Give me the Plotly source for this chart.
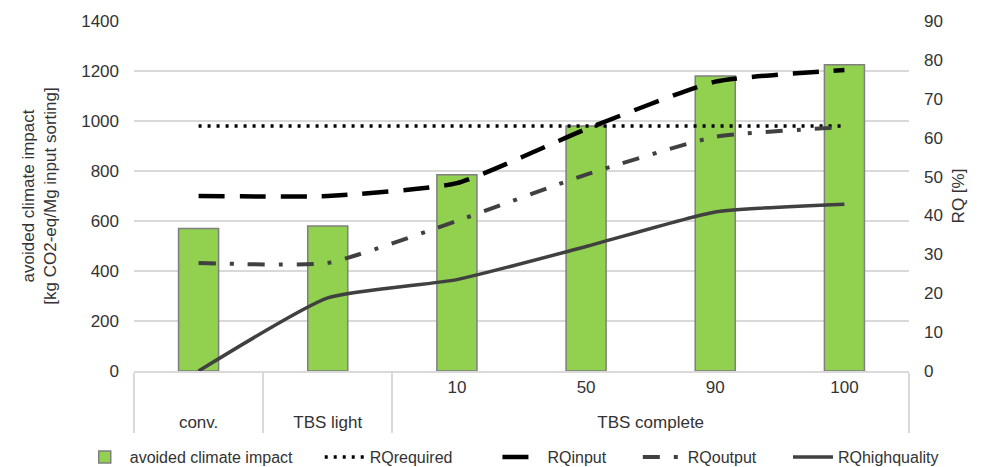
import plotly.graph_objects as go

groups = ["conv.", "TBS light", "TBS complete", "TBS complete", "TBS complete", "TBS complete"]
subs = [" ", "  ", "10", "50", "90", "100"]
avoided = [570, 580, 785, 980, 1180, 1225]
rq_required = [63, 63, 63, 63, 63, 63]
rq_input = [45, 45, 48.3, 62.2, 74.4, 77.4]
rq_output = [27.8, 27.8, 38.6, 50.5, 60.2, 62.7]
rq_high = [0, 18.8, 23.5, 32.0, 40.9, 42.9]

# a raised blank second line widens the gap between the two label rows
sub_labels = [s + "<br><sup> </sup>" for s in subs]
x = [groups, sub_labels]
FAM = "Liberation Sans, Arial, sans-serif"
font = dict(family=FAM, size=17, color="#333333")
NB = "\u00a0"

fig = go.Figure()
fig.add_trace(go.Bar(x=x, y=avoided, name="avoided climate impact" + NB * 5, width=0.31,
                     marker=dict(color="#92D050", line=dict(color="#7f7f7f", width=1.5)),
                     yaxis="y"))
fig.add_trace(go.Scatter(x=x, y=rq_required, name="RQrequired" + NB * 9, mode="lines", yaxis="y2",
                         line=dict(color="black", width=3.5, dash="3px,6px")))
fig.add_trace(go.Scatter(x=x, y=rq_input, name="RQinput" + NB * 6, mode="lines", yaxis="y2",
                         line=dict(color="black", width=4.5, dash="26px,15px", shape="spline", smoothing=0.5)))
fig.add_trace(go.Scatter(x=x, y=rq_output, name="RQoutput" + NB * 6, mode="lines", yaxis="y2",
                         line=dict(color="#404040", width=4, dash="17px,14px,4px,14px", shape="spline", smoothing=0.5)))
fig.add_trace(go.Scatter(x=x, y=rq_high, name="RQhighquality", mode="lines", yaxis="y2",
                         line=dict(color="#404040", width=3.5, shape="spline", smoothing=0.5)))

fig.update_layout(
    width=973, height=459,
    margin=dict(l=126, r=72, t=13, b=96, autoexpand=False),
    plot_bgcolor="white", paper_bgcolor="white",
    font=font,
    xaxis=dict(type="multicategory", showline=True, linecolor="#d9d9d9", linewidth=1.5,
               showdividers=True, dividercolor="#d9d9d9", dividerwidth=1.5,
               tickfont=font, showgrid=False, ticks="", automargin=False),
    yaxis=dict(range=[0, 1400], dtick=200, showgrid=True, gridcolor="#d9d9d9", gridwidth=1.5,
               zeroline=False, tickfont=font, ticklabelstandoff=14, automargin=False,
               title=dict(text="avoided climate impact<br>[kg CO2-eq/Mg input sorting]",
                          font=font, standoff=20)),
    yaxis2=dict(range=[0, 90], dtick=10, overlaying="y", side="right", showgrid=False,
                zeroline=False, tickfont=font, ticklabelstandoff=14, automargin=False,
                title=dict(text="RQ [%]", font=font, standoff=10)),
    legend=dict(orientation="h", x=-0.07, xanchor="left",
                y=-0.2457, yanchor="middle",
                font=dict(family=FAM, size=16, color="#333333"),
                itemwidth=40, tracegroupgap=0),
    showlegend=True,
)

fig.write_html("out.html")
